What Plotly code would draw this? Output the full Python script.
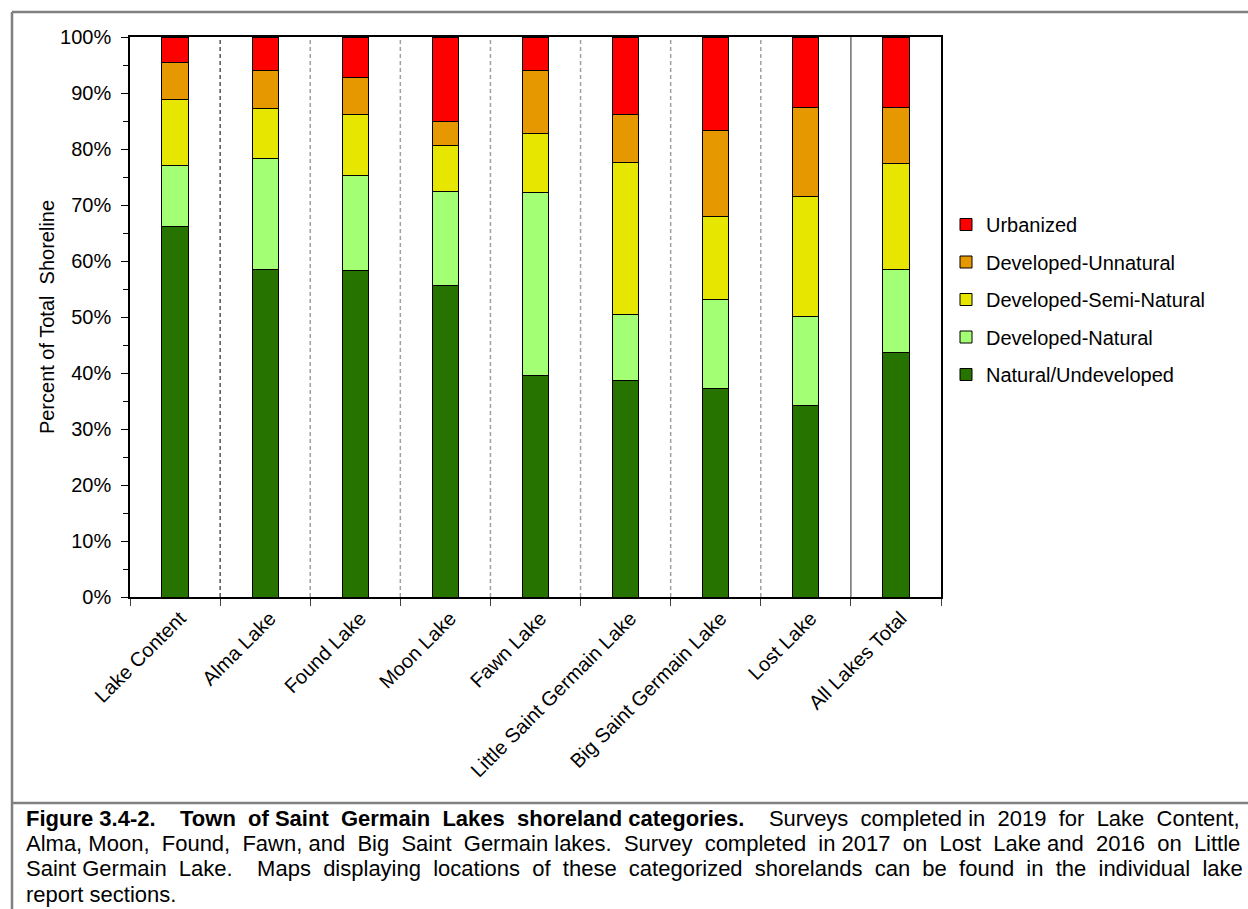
import plotly.graph_objects as go

lakes = ["Lake Content", "Alma Lake", "Found Lake", "Moon Lake", "Fawn Lake",
         "Little Saint Germain Lake", "Big Saint Germain Lake", "Lost Lake", "All Lakes Total"]

natural_undeveloped = [66.1, 58.5, 58.3, 55.7, 39.6, 38.7, 37.3, 34.2, 43.7]
developed_natural = [10.9, 19.8, 16.9, 16.7, 32.6, 11.8, 15.8, 15.9, 14.8]
developed_semi_natural = [11.9, 9.0, 10.9, 8.3, 10.6, 27.1, 14.8, 21.4, 18.9]
developed_unnatural = [6.6, 6.8, 6.6, 4.3, 11.3, 8.6, 15.4, 16.0, 10.1]
urbanized = [4.5, 5.9, 7.3, 15.0, 5.9, 13.8, 16.7, 12.5, 12.5]

series = [
    ("Natural/Undeveloped", natural_undeveloped, "#267300"),
    ("Developed-Natural", developed_natural, "#A3FF73"),
    ("Developed-Semi-Natural", developed_semi_natural, "#E6E600"),
    ("Developed-Unnatural", developed_unnatural, "#E69800"),
    ("Urbanized", urbanized, "#FF0000"),
]

caption_lines = [
    "<b>Figure 3.4-2.  Town of Saint Germain Lakes shoreland categories.</b>  "
    "Surveys completed in 2019 for Lake Content,",
    "Alma, Moon, Found, Fawn, and Big Saint Germain lakes. Survey completed in 2017 "
    "on Lost Lake and 2016 on Little",
    "Saint Germain Lake.  Maps displaying locations of these categorized shorelands "
    "can be found in the individual lake",
    "report sections.",
]
# extra spaces to spread each line over the full width (justified look)
caption_extra = [13, 14, 16, 0]
caption_y = [818, 843, 868, 894]


def justify(line, extra):
    if extra == 0:
        return line
    gaps = [i for i, c in enumerate(line) if c == " "]
    out = []
    k = 0
    for c in line:
        out.append(c)
        if c == " ":
            n = (extra * (k + 1)) // len(gaps) - (extra * k) // len(gaps)
            out.append(" " * n)
            k += 1
    return "".join(out)


FONT = "Liberation Sans, Arial, sans-serif"

fig = go.Figure()
for rank, (name, vals, color) in enumerate(series):
    fig.add_trace(go.Bar(
        x=lakes, y=vals, name=name, legendgroup=name, legendrank=len(series) - rank,
        marker=dict(color=color, line=dict(color="black", width=1)),
    ))

# plot area in pixels
L, R, T, B = 130, 941, 37, 597
W, H = R - L, B - T

def px(x):
    return (x - L) / W

def py(y):
    return (B - y) / H

shapes = []
# separators between lake groups
for i in range(len(lakes) - 1):
    if i == 0:
        line = dict(color="black", width=1, dash="4px,3px")
    elif i == len(lakes) - 2:
        line = dict(color="#707070", width=1.5)
    else:
        line = dict(color="#A0A0A0", width=1.5, dash="4px,3px")
    shapes.append(dict(type="line", xref="x", yref="paper", x0=i + 0.5, x1=i + 0.5,
                       y0=0, y1=1, line=line, layer="below"))

# outer figure frame
frame = dict(color="#808080", width=2.5)
shapes.append(dict(type="line", xref="paper", yref="paper", x0=px(12), x1=px(12),
                   y0=py(12), y1=py(960), line=frame))
shapes.append(dict(type="line", xref="paper", yref="paper", x0=px(12), x1=px(1300),
                   y0=py(12), y1=py(12), line=frame))
shapes.append(dict(type="line", xref="paper", yref="paper", x0=px(12), x1=px(1300),
                   y0=py(803), y1=py(803), line=frame))

annotations = []
for text, extra, yc in zip(caption_lines, caption_extra, caption_y):
    annotations.append(dict(text=justify(text, extra), xref="paper", yref="paper",
                            x=px(24), y=py(yc), xanchor="left", yanchor="middle",
                            align="left", showarrow=False,
                            font=dict(family=FONT, size=22, color="black")))

fig.update_layout(
    barmode="stack",
    bargap=0.71,
    width=1248, height=909,
    margin=dict(l=L, r=1248 - R, t=T, b=909 - B),
    paper_bgcolor="white", plot_bgcolor="white",
    font=dict(family=FONT, size=20, color="black"),
    showlegend=True,
    legend=dict(x=px(946), xanchor="left", y=py(205), yanchor="top",
                traceorder="grouped", tracegroupgap=8.5,
                font=dict(size=20, color="black"), itemwidth=30,
                bgcolor="rgba(0,0,0,0)"),
    shapes=shapes,
    annotations=annotations,
)

fig.update_xaxes(
    type="category", tickson="boundaries", ticks="outside", ticklen=7,
    tickcolor="#404040", tickangle=-45, showline=True, linecolor="black",
    linewidth=1.5, mirror=True, showgrid=False, tickfont=dict(size=20),
    ticklabelshift=5,
)
fig.update_yaxes(
    range=[0, 100], dtick=10, ticksuffix="%", ticks="outside", ticklen=7,
    tickcolor="black", showline=True, linecolor="black", linewidth=1.5, mirror=True,
    showgrid=False, zeroline=False, tickfont=dict(size=20), ticklabelstandoff=6,
    minor=dict(dtick=5, ticks="outside", ticklen=5, tickcolor="black"),
    title=dict(text="Percent of Total  Shoreline", font=dict(size=20), standoff=0),
)

fig.write_html("out.html", config={"displayModeBar": False},
               post_script="document.body.style.margin = '0';")
